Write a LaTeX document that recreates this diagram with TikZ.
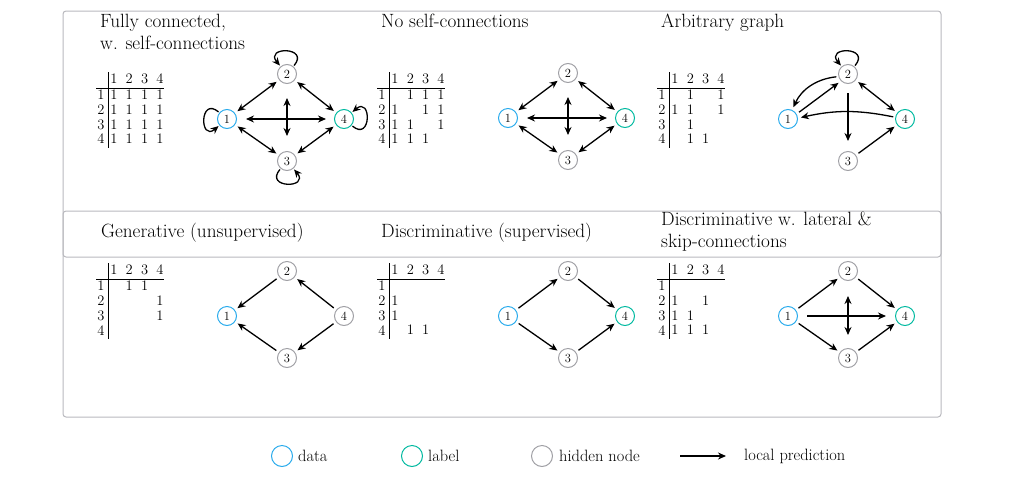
\documentclass[tikz,border=0pt]{standalone}
\usetikzlibrary{arrows.meta}
\definecolor{datac}{RGB}{41,171,236}
\definecolor{labc}{RGB}{0,185,160}
\definecolor{hidc}{RGB}{160,160,165}
\definecolor{boxc}{RGB}{185,185,190}
\tikzset{
  nd/.style={circle,draw,line width=1pt,minimum size=19pt,inner sep=0pt,font=\fontsize{12.5}{12.5}\selectfont},
  dat/.style={nd,draw=datac}, lab/.style={nd,draw=labc}, hid/.style={nd,draw=hidc},
  ar/.style={-{Stealth[length=8pt,width=7pt]},line width=1.3pt,shorten >=3pt,shorten <=3pt},
  bi/.style={ar,{Stealth[length=8pt,width=7pt]}-{Stealth[length=8pt,width=7pt]}},
  ttl/.style={anchor=north west,align=left,inner sep=0pt,font=\fontsize{19.2}{22}\selectfont},
  tb/.style={inner sep=0pt,font=\fontsize{14.5}{14.5}\selectfont},
  box/.style={draw=boxc,line width=1pt,rounded corners=3pt},
  leg/.style={anchor=west,inner sep=0pt,font=\fontsize{16.4}{16.4}\selectfont},
  lp/.style={ar,shorten <=1pt,shorten >=1pt,loop,min distance=26pt}
}
\newcommand\mytbl[4]{%
  \draw[line width=0.8pt] (#2,#3-7) -- (#2,#3+69);
  \draw[line width=0.8pt] (#2-12,#3+9) -- (#2+56,#3+9);
  \foreach \k in {1,2,3,4}{
    \node[tb] (#1-h\k) at (#2+6+15.3*\k-15.3,#3) {\k};
    \node[tb] (#1-r\k) at (#2-7,#3+16+14.7*\k-14.7) {\k};
  }
  \foreach \r/\c in {#4}{
    \node[tb] (#1-\r-\c) at (#2+6+15.3*\c-15.3,#3+16+14.7*\r-14.7) {1};
  }
}
\newcommand\mynodes[4]{%
  \node[dat] (#1-1) at (#2,#3+45) {1};
  \node[hid] (#1-2) at (#2+60,#3) {2};
  \node[hid] (#1-3) at (#2+60,#3+87) {3};
  \node[#4] (#1-4) at (#2+117,#3+45) {4};
}
\begin{document}
\begin{tikzpicture}[x=1pt,y=-1pt]
\useasboundingbox (0,0) rectangle (1020,480);
\draw[box] (63,11) rectangle (941,257);
\draw[box] (63,211) rectangle (941,417);
% titles
\node[ttl] (t1) at (100,14) {Fully connected,\\w. self-connections};
\node[ttl] (t2) at (381,14) {No self-connections};
\node[ttl] (t3) at (661,14) {Arbitrary graph};
\node[ttl] (t4) at (101,223) {Generative (unsupervised)};
\node[ttl] (t5) at (381,223) {Discriminative (supervised)};
\node[ttl] (t6) at (661,212) {Discriminative w. lateral \&\\skip-connections};
% tables
\mytbl{A}{108}{79}{1/1,1/2,1/3,1/4,2/1,2/2,2/3,2/4,3/1,3/2,3/3,3/4,4/1,4/2,4/3,4/4}
\mytbl{B}{389}{79}{1/2,1/3,1/4,2/1,2/3,2/4,3/1,3/2,3/4,4/1,4/2,4/3}
\mytbl{C}{669}{79}{1/2,1/4,2/1,2/2,2/4,3/2,4/2,4/3}
\mytbl{D}{108}{270}{1/2,1/3,2/4,3/4}
\mytbl{E}{389}{270}{2/1,3/1,4/2,4/3}
\mytbl{F}{669}{270}{2/1,2/3,3/1,3/2,4/1,4/2,4/3}
% graphs
\mynodes{a}{227}{74}{lab}
\mynodes{b}{508}{73}{lab}
\mynodes{c}{788}{74}{lab}
\mynodes{d}{227}{271}{hid}
\mynodes{e}{508}{271}{lab}
\mynodes{f}{788}{271}{lab}
% graph a
\draw[bi] (a-1) -- (a-2);
\draw[bi] (a-2) -- (a-4);
\draw[bi] (a-1) -- (a-3);
\draw[bi] (a-3) -- (a-4);
\draw[bi,shorten <=9pt,shorten >=8pt] (a-1) -- (a-4);
\draw[bi,shorten <=14pt,shorten >=15pt] (a-2) -- (a-3);
\path (a-2) edge[lp,out=50,in=130] (a-2);
\path (a-3) edge[lp,out=-130,in=-50] (a-3);
\path (a-1) edge[lp,out=140,in=220] (a-1);
\path (a-4) edge[lp,out=-40,in=40] (a-4);
% graph b
\draw[bi] (b-1) -- (b-2);
\draw[bi] (b-2) -- (b-4);
\draw[bi] (b-1) -- (b-3);
\draw[bi] (b-3) -- (b-4);
\draw[bi,shorten <=9pt,shorten >=8pt] (b-1) -- (b-4);
\draw[bi,shorten <=14pt,shorten >=15pt] (b-2) -- (b-3);
% graph c
\path (c-2) edge[lp,out=50,in=130] (c-2);
\draw[ar,shorten <=2pt] (c-2.195) to[bend right=30] (c-1.65);
\draw[ar] (c-1.30) -- (c-2.225);
\draw[bi] (c-2) -- (c-4);
\draw[ar,shorten <=2pt] (c-4.170) to[bend right=12] (c-1.5);
\draw[ar,shorten <=9pt,shorten >=10pt] (c-2) -- (c-3);
\draw[ar] (c-3) -- (c-4);
% graph d
\draw[ar] (d-2) -- (d-1);
\draw[ar] (d-3) -- (d-1);
\draw[ar] (d-4) -- (d-2);
\draw[ar] (d-4) -- (d-3);
% graph e
\draw[ar] (e-1) -- (e-2);
\draw[ar] (e-1) -- (e-3);
\draw[ar] (e-2) -- (e-4);
\draw[ar] (e-3) -- (e-4);
% graph f
\draw[ar] (f-1) -- (f-2);
\draw[ar] (f-1) -- (f-3);
\draw[ar] (f-2) -- (f-4);
\draw[ar] (f-3) -- (f-4);
\draw[ar,shorten <=9pt,shorten >=9pt] (f-1) -- (f-4);
\draw[bi,shorten <=15pt,shorten >=13pt] (f-2) -- (f-3);
% legend
\node[dat,minimum size=21pt] (l1) at (282,456) {};
\node[leg] (l1t) at (298,456) {data};
\node[lab,minimum size=21pt] (l2) at (412,456) {};
\node[leg] (l2t) at (428,456) {label};
\node[hid,minimum size=21pt] (l3) at (542,456) {};
\node[leg] (l3t) at (559,456) {hidden node};
\coordinate (la) at (680,456);
\coordinate (lb) at (726,456);
\draw[ar,shorten <=0pt,shorten >=0pt] (la) -- (lb);
\node[leg] (l4t) at (744,456) {local prediction};
\end{tikzpicture}
\end{document}
